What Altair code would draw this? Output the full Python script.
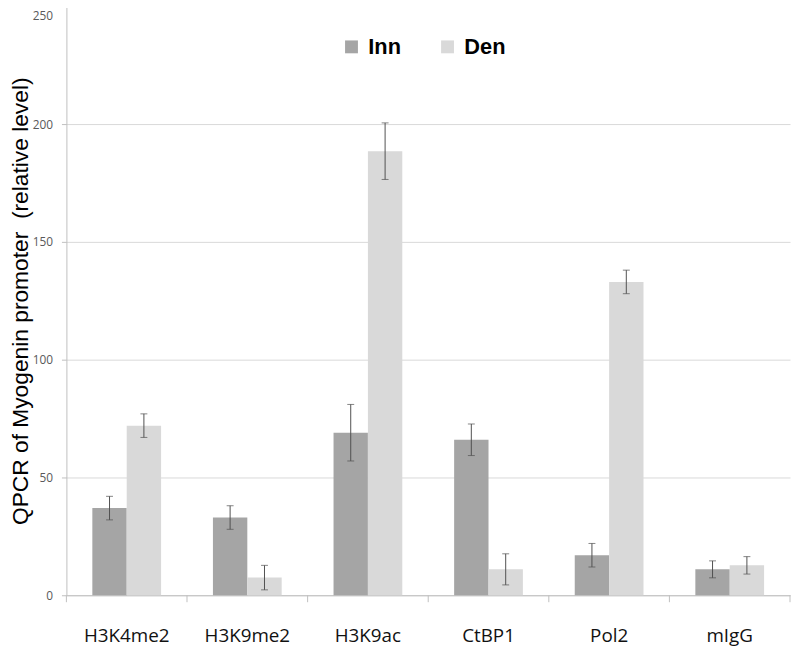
import altair as alt
import pandas as pd

categories = ["H3K4me2", "H3K9me2", "H3K9ac", "CtBP1", "Pol2", "mIgG"]
groups = ["Inn", "Den"]
inn = [37, 33, 69, 66, 17, 11]
inn_err = [5, 5, 12, 6.7, 5, 3.6]
den = [72, 7.5, 188.5, 11, 133, 12.7]
den_err = [5, 5.2, 12, 6.6, 5, 3.7]
y_ticks = [0, 50, 100, 150, 200, 250]

rows = []
for i, c in enumerate(categories):
    rows.append({"target": c, "group": "Inn", "value": inn[i], "lo": inn[i] - inn_err[i], "hi": inn[i] + inn_err[i]})
    rows.append({"target": c, "group": "Den", "value": den[i], "lo": den[i] - den_err[i], "hi": den[i] + den_err[i]})
df = pd.DataFrame(rows)

W, H = 731, 595

xenc = alt.X("target:N", sort=categories,
             scale=alt.Scale(paddingInner=0.43, paddingOuter=0.215),
             axis=alt.Axis(title=None, labelAngle=0, ticks=False, grid=False,
                           domainColor="#bfbfbf", labelFont="Open Sans", labelFontSize=19,
                           labelColor="#111111", labelPadding=32))
xoff = alt.XOffset("group:N", sort=groups, scale=alt.Scale(paddingInner=0, paddingOuter=0))

base = alt.Chart(df)

bars = base.mark_bar().encode(
    x=xenc,
    xOffset=xoff,
    y=alt.Y("value:Q", scale=alt.Scale(domain=[0, 250], nice=False),
            axis=alt.Axis(title="QPCR of Myogenin promoter\u00a0 (relative level)",
                          values=y_ticks, gridColor="#d9d9d9",
                          domainColor="#bfbfbf", tickColor="#bfbfbf", tickSize=5,
                          labelFont="Open Sans", labelFontSize=12, labelColor="#595959",
                          labelPadding=9,
                          labelOffset={"condition": {"test": "datum.value == 250", "value": 9}, "value": 0},
                          titleFont="Liberation Sans", titleFontSize=23,
                          titleFontWeight="normal", titleColor="black", titlePadding=0)),
    color=alt.Color("group:N", sort=groups,
                    scale=alt.Scale(domain=groups, range=["#a5a5a5", "#d9d9d9"]),
                    legend=alt.Legend(title=None, orient="none", legendX=277, legendY=30,
                                      direction="horizontal", symbolType="square",
                                      symbolSize=169, symbolStrokeWidth=0,
                                      labelFont="Liberation Sans", labelFontSize=22,
                                      labelFontWeight="bold", labelColor="black",
                                      columnPadding=36, labelOffset=6, padding=0)),
)

err = base.mark_rule(color="#505050", strokeWidth=1).encode(
    x=alt.X("target:N", sort=categories), xOffset=xoff,
    y="lo:Q", y2="hi:Q")
cap_lo = base.mark_tick(color="#505050", thickness=1, size=7, orient="horizontal").encode(
    x=alt.X("target:N", sort=categories), xOffset=xoff, y="lo:Q")
cap_hi = base.mark_tick(color="#505050", thickness=1, size=7, orient="horizontal").encode(
    x=alt.X("target:N", sort=categories), xOffset=xoff, y="hi:Q")

main = alt.layer(bars, err, cap_lo, cap_hi)

tick_scale = alt.Scale(paddingInner=0, paddingOuter=0)
cat_df = pd.DataFrame({"target": categories})
xticks = alt.Chart(cat_df).mark_rule(color="#bfbfbf").encode(
    x=alt.X("target:N", sort=categories, bandPosition=0, scale=tick_scale, axis=None),
    y=alt.value(H), y2=alt.value(H + 7))
xtick_end = alt.Chart(pd.DataFrame({"target": categories[-1:]})).mark_rule(color="#bfbfbf").encode(
    x=alt.X("target:N", sort=categories, bandPosition=1, scale=tick_scale, axis=None),
    y=alt.value(H), y2=alt.value(H + 7))
ticks = alt.layer(xticks, xtick_end)

chart = alt.layer(main, ticks).resolve_scale(x="independent").properties(
    width=W, height=H,
    autosize=alt.AutoSizeParams(type="none"),
    padding={"left": 59, "top": -5, "right": 2, "bottom": 49},
).configure_view(stroke=None)

chart.save("out.html", embed_options={"renderer": "svg", "actions": False})
